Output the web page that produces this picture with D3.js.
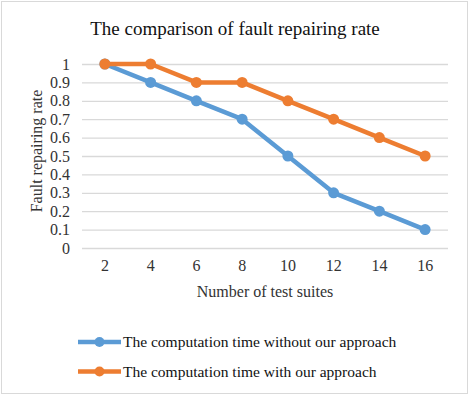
<!DOCTYPE html>
<html><head><meta charset="utf-8">
<script src="https://cdn.jsdelivr.net/npm/d3@7"></script>
<style>body{margin:0;background:#fff}svg{display:block}svg text{font-family:"Liberation Serif","Times New Roman",serif !important;fill:#333}</style>
</head><body>
<script>
const categories = ["2","4","6","8","10","12","14","16"];
const without = [1,0.9,0.8,0.7,0.5,0.3,0.2,0.1];
const withA = [1,1,0.9,0.9,0.8,0.7,0.6,0.5];
const yTicks = [0,0.1,0.2,0.3,0.4,0.5,0.6,0.7,0.8,0.9,1];
const seriesNames = ["The computation time without our approach","The computation time with our approach"];
const colors = ["#5B9BD5","#ED7D31"];
const SERIF = "'Liberation Serif', 'Times New Roman', serif";

const W=470,H=396;
const svg=d3.select("body").append("svg").attr("width",W).attr("height",H);
svg.append("rect").attr("x",1.5).attr("y",1.5).attr("width",W-4).attr("height",H-4).attr("fill","#fff").attr("stroke","#d9d9d9");
const x=d3.scaleBand().domain(categories).range([82,448]);
const y=d3.scaleLinear().domain([0,1]).range([248,64]);

svg.append("text").attr("x",235).attr("y",35).attr("text-anchor","middle").style("font-family",SERIF).style("font-size","19px").style("fill","#111").text("The comparison of fault repairing rate");

const ya=svg.append("g").attr("transform","translate(82,0)").call(d3.axisLeft(y).tickValues(yTicks).tickSize(-366).tickFormat(d=>d3.format("~g")(d)).tickPadding(12));
ya.attr("font-family",SERIF);
ya.select(".domain").remove();
ya.selectAll("line").attr("stroke","#d9d9d9").attr("stroke-width",1.3);
ya.selectAll("text").style("font-family",SERIF).style("font-size","16px").style("fill","#333");

const xa=svg.append("g").attr("transform","translate(0,248)").call(d3.axisBottom(x).tickSize(0).tickPadding(12));
xa.attr("font-family",SERIF);
xa.select(".domain").remove();
xa.selectAll("text").style("font-family",SERIF).style("font-size","16px").style("fill","#333");

svg.append("text").attr("transform","translate(42,151) rotate(-90)").attr("text-anchor","middle").style("font-family",SERIF).style("font-size","16px").text("Fault repairing rate");
svg.append("text").attr("x",265).attr("y",297).attr("text-anchor","middle").style("font-family",SERIF).style("font-size","16px").text("Number of test suites");

const line=d3.line().x((d,i)=>x(categories[i])+x.bandwidth()/2).y(d=>y(d));
[without,withA].forEach((s,k)=>{
  const g=svg.append("g");
  g.append("path").datum(s).attr("d",line).attr("fill","none").attr("stroke",colors[k]).attr("stroke-width",4.5).attr("stroke-linejoin","round");
  g.selectAll("circle").data(s).join("circle").attr("cx",(d,i)=>x(categories[i])+x.bandwidth()/2).attr("cy",d=>y(d)).attr("r",5.5).attr("fill",colors[k]);
});

seriesNames.forEach((n,k)=>{
  const ly=342+k*29.5;
  svg.append("line").attr("x1",78).attr("x2",121).attr("y1",ly).attr("y2",ly).attr("stroke",colors[k]).attr("stroke-width",4.5);
  svg.append("circle").attr("cx",99.5).attr("cy",ly).attr("r",5).attr("fill",colors[k]);
  svg.append("text").attr("x",123).attr("y",ly+5).style("font-family",SERIF).style("font-size","15.5px").style("fill","#111").text(n);
});
</script>
</body></html>
